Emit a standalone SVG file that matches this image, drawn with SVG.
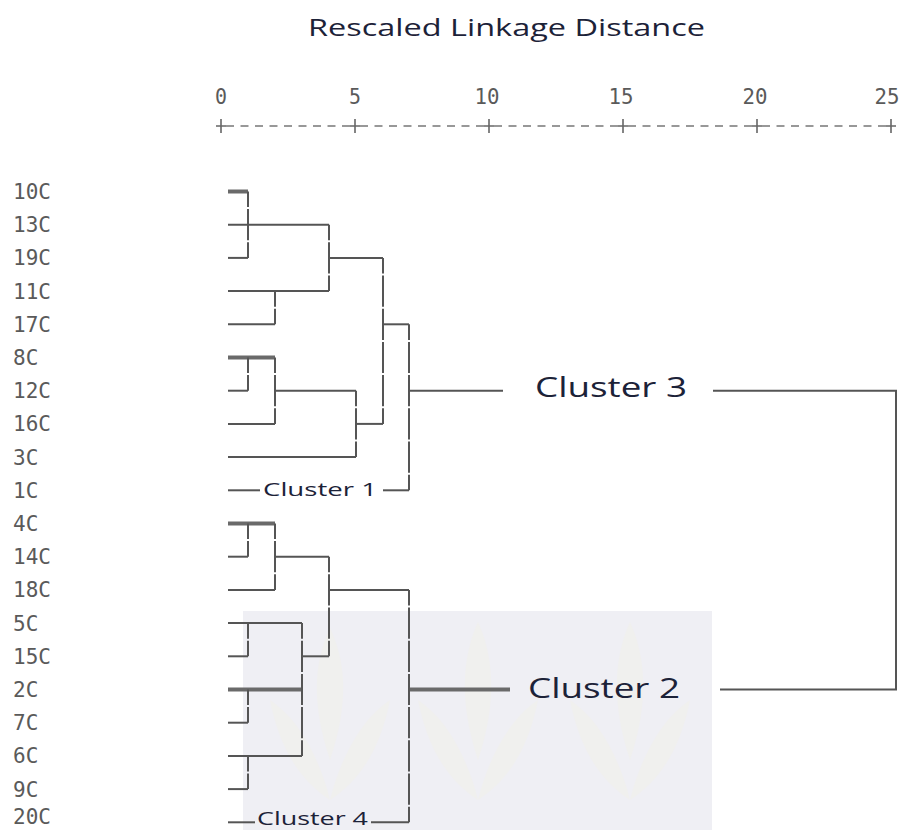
<svg xmlns="http://www.w3.org/2000/svg" width="902" height="830" viewBox="0 0 902 830">
<style>
.leaf{font-family:"DejaVu Sans Mono","Liberation Mono",monospace;font-size:21px;fill:#5a5a5a}
.ax{font-family:"DejaVu Sans Mono","Liberation Mono",monospace;font-size:22px;fill:#5a5a5a;text-anchor:middle}
.title{font-family:"Open Sans","Noto Sans",sans-serif;font-size:23px;fill:#1c2238}
.cl{font-family:"Open Sans","Noto Sans",sans-serif;fill:#1c2238}
.h{stroke:#555;stroke-width:2;fill:none}
.hk{stroke:#6a6a6a;stroke-width:4;fill:none}
.v{stroke:#555;stroke-width:2;fill:none;stroke-dasharray:31.2 2;stroke-dashoffset:15.6}
.tick{stroke:#666;stroke-width:1.6}
.dash{stroke:#777;stroke-width:1.6;stroke-dasharray:8 6.5}
</style>
<rect width="902" height="830" fill="#fff"/>
<g id="shade">
<rect x="243" y="611" width="469" height="219" fill="#efeff4"/>
<g fill="#f2f1ea" opacity="0.55">
<path d="M330 628 C345 660 350 700 330 760 C310 700 315 660 330 628Z"/>
<path d="M478 622 C493 655 498 700 478 760 C458 700 463 655 478 622Z"/>
<path d="M630 622 C645 655 650 700 630 760 C610 700 615 655 630 622Z"/>
<path d="M270 700 C300 720 320 760 330 800 C300 780 280 750 270 700Z"/>
<path d="M390 700 C360 720 340 760 330 800 C360 780 380 750 390 700Z"/>
<path d="M418 700 C448 720 468 760 478 800 C448 780 428 750 418 700Z"/>
<path d="M538 700 C508 720 488 760 478 800 C508 780 528 750 538 700Z"/>
<path d="M570 700 C600 720 620 760 630 800 C600 780 580 750 570 700Z"/>
<path d="M690 700 C660 720 640 760 630 800 C660 780 680 750 690 700Z"/>
</g>
</g>
<g id="title"><text class="title" x="308" y="36" textLength="397" lengthAdjust="spacingAndGlyphs">Rescaled Linkage Distance</text></g>
<g id="axis">
<text class="ax" x="221" y="104" textLength="12" lengthAdjust="spacingAndGlyphs">0</text>
<text class="ax" x="355" y="104" textLength="12" lengthAdjust="spacingAndGlyphs">5</text>
<text class="ax" x="487" y="104" textLength="25" lengthAdjust="spacingAndGlyphs">10</text>
<text class="ax" x="621" y="104" textLength="25" lengthAdjust="spacingAndGlyphs">15</text>
<text class="ax" x="755" y="104" textLength="25" lengthAdjust="spacingAndGlyphs">20</text>
<text class="ax" x="887" y="104" textLength="25" lengthAdjust="spacingAndGlyphs">25</text>
<g class="dash">
<line x1="226" y1="126" x2="350" y2="126"/>
<line x1="360" y1="126" x2="484" y2="126"/>
<line x1="494" y1="126" x2="618" y2="126"/>
<line x1="628" y1="126" x2="752" y2="126"/>
<line x1="762" y1="126" x2="886" y2="126"/>
</g>
<g class="tick">
<path d="M221 119V133M216 126H226"/>
<path d="M355 119V133M350 126H360"/>
<path d="M489 119V133M484 126H494"/>
<path d="M623 119V133M618 126H628"/>
<path d="M757 119V133M752 126H762"/>
<path d="M891 119V133M886 126H896"/>
</g>
</g>
<g id="leaves">
<g id="n10C"><text class="leaf" x="13" y="199">10C</text></g>
<g id="n13C"><text class="leaf" x="13" y="232">13C</text></g>
<g id="n19C"><text class="leaf" x="13" y="265">19C</text></g>
<g id="n11C"><text class="leaf" x="13" y="299">11C</text></g>
<g id="n17C"><text class="leaf" x="13" y="332">17C</text></g>
<g id="n8C"><text class="leaf" x="13" y="365">8C</text></g>
<g id="n12C"><text class="leaf" x="13" y="398">12C</text></g>
<g id="n16C"><text class="leaf" x="13" y="431">16C</text></g>
<g id="n3C"><text class="leaf" x="13" y="465">3C</text></g>
<g id="n1C"><text class="leaf" x="13" y="498">1C</text></g>
<g id="n4C"><text class="leaf" x="13" y="531">4C</text></g>
<g id="n14C"><text class="leaf" x="13" y="564">14C</text></g>
<g id="n18C"><text class="leaf" x="13" y="597">18C</text></g>
<g id="n5C"><text class="leaf" x="13" y="631">5C</text></g>
<g id="n15C"><text class="leaf" x="13" y="664">15C</text></g>
<g id="n2C"><text class="leaf" x="13" y="697">2C</text></g>
<g id="n7C"><text class="leaf" x="13" y="730">7C</text></g>
<g id="n6C"><text class="leaf" x="13" y="763">6C</text></g>
<g id="n9C"><text class="leaf" x="13" y="797">9C</text></g>
<g id="n20C"><text class="leaf" x="13" y="824">20C</text></g>
</g>
<g id="clusters">
<g id="cluster1"><text class="cl" x="263" y="496" font-size="18" textLength="114" lengthAdjust="spacingAndGlyphs">Cluster 1</text></g>
<g id="cluster4"><text class="cl" x="257" y="825" font-size="18" textLength="111" lengthAdjust="spacingAndGlyphs">Cluster 4</text></g>
<g id="cluster3"><text class="cl" x="535" y="397" font-size="27" textLength="152" lengthAdjust="spacingAndGlyphs">Cluster 3</text></g>
<g id="cluster2"><text class="cl" x="528" y="698" font-size="27" textLength="152" lengthAdjust="spacingAndGlyphs">Cluster 2</text></g>
</g>
<g id="connectors">
<path class="hk" d="M228 191.5H248"/>
<path class="h" d="M228 224.7H329"/>
<path class="h" d="M228 257.9H248"/>
<path class="h" d="M228 291.1H329"/>
<path class="h" d="M228 324.3H275"/>
<path class="h" d="M329 257.9H383"/>
<path class="h" d="M383 324.3H409"/>
<path class="hk" d="M228 357.5H275"/>
<path class="h" d="M228 390.7H248"/>
<path class="h" d="M228 423.9H275"/>
<path class="h" d="M275 390.7H356"/>
<path class="h" d="M228 457.1H356"/>
<path class="h" d="M356 423.9H383"/>
<path class="h" d="M228 490.3H260"/>
<path class="h" d="M383 490.3H409"/>
<path class="h" d="M409 390.7H503"/>
<path class="h" d="M713 390.7H896V689.5H720"/>
<path class="hk" d="M409 689.5H510"/>
<path class="v" d="M248 191.5V257.9"/>
<path class="v" d="M275 291.1V324.3"/>
<path class="v" d="M329 224.7V291.1"/>
<path class="v" d="M383 257.9V423.9"/>
<path class="v" d="M409 324.3V490.3"/>
<path class="v" d="M248 357.5V390.7"/>
<path class="v" d="M275 357.5V423.9"/>
<path class="v" d="M356 390.7V457.1"/>
<path class="hk" d="M228 523.5H275"/>
<path class="h" d="M228 556.7H248"/>
<path class="h" d="M228 589.9H275"/>
<path class="h" d="M275 556.7H329"/>
<path class="h" d="M329 589.9H409"/>
<path class="h" d="M228 623.1H302"/>
<path class="h" d="M228 656.3H248"/>
<path class="h" d="M302 656.3H329"/>
<path class="hk" d="M228 689.5H302"/>
<path class="h" d="M228 722.7H248"/>
<path class="h" d="M228 755.9H302"/>
<path class="h" d="M228 789.1H248"/>
<path class="h" d="M228 822.3H255"/>
<path class="h" d="M371 822.3H409"/>
<path class="v" d="M248 523.5V556.7"/>
<path class="v" d="M275 523.5V589.9"/>
<path class="v" d="M329 556.7V656.3"/>
<path class="v" d="M248 623.1V656.3"/>
<path class="v" d="M248 689.5V722.7"/>
<path class="v" d="M248 755.9V789.1"/>
<path class="v" d="M302 623.1V755.9"/>
<path class="v" d="M409 589.9V822.3"/>
</g>
</svg>
